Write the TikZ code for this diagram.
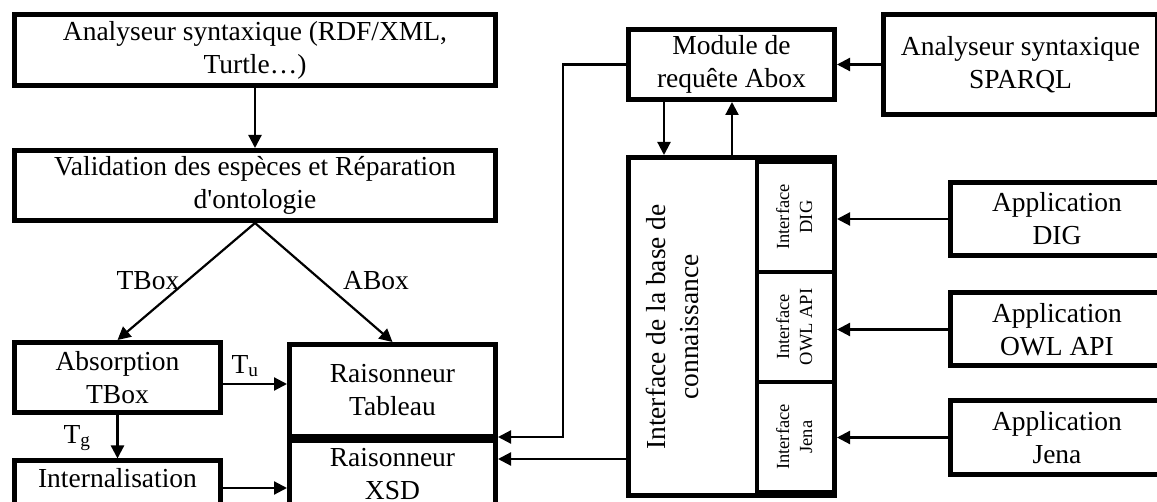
\documentclass[tikz,border=0pt]{standalone}
\usepackage{fontspec}
\setmainfont{Liberation Serif}
\usetikzlibrary{arrows.meta}
\tikzset{
  bloc/.style={draw, line width=5pt, align=center, inner sep=2pt,
    font=\fontsize{27.5}{33}\selectfont},
  sousbloc/.style={draw, line width=4pt, inner sep=0pt,
    minimum width=78, minimum height=110, font=\fontsize{18.5}{23}\selectfont},
  appli/.style={bloc, minimum width=213, minimum height=73},
  fleche/.style={-{Triangle[length=13pt,width=13pt]}, line width=2.2pt},
  etiq/.style={font=\fontsize{27.5}{33}\selectfont, inner sep=0pt}
}
\newcommand{\vtexte}[2]{\rotatebox{90}{\begin{tabular}{@{}c@{}}#1\\#2\end{tabular}}}

\begin{document}
\begin{tikzpicture}[x=1pt,y=-1pt]
\useasboundingbox (0,0) rectangle (1157,502);

\node[bloc, minimum width=481, minimum height=71] (rdf) at (255,50)
  {Analyseur syntaxique (RDF/XML,\\ Turtle…)};
\node[bloc, minimum width=481, minimum height=70] (valid) at (255,185.5)
  {Validation des espèces et Réparation\\ d\textquotesingle ontologie};
\node[bloc, minimum width=206, minimum height=70] (absorb) at (117.5,377.5)
  {Absorption\\ TBox};
\node[bloc, minimum width=206, minimum height=66] (intern) at (117.5,494)
  {Internalisation\\ \phantom{X}};
\node[bloc, minimum width=206, minimum height=92] (tableau) at (392.5,390.5)
  {Raisonneur\\ Tableau};
\node[bloc, minimum width=206, minimum height=66] (xsd) at (392.5,474)
  {Raisonneur\\ XSD};

\node[bloc, minimum width=206, minimum height=70] (module) at (731.5,64.5)
  {Module de\\ requête Abox};
\node[bloc, minimum width=274, minimum height=100] (sparql) at (1020.5,64.5)
  {Analyseur syntaxique\\ SPARQL};

\node[bloc, minimum width=206, minimum height=338] (iface) at (731.5,326.5) {};
\node[etiq, rotate=90, align=center] (ifacetxt) at (672,327)
  {Interface de la base de\\ connaissance};
\node[sousbloc] (dig) at (796,217) {\vtexte{Interface}{DIG}};
\node[sousbloc] (owl) at (796,327) {\vtexte{Interface}{OWL API}};
\node[sousbloc] (jena) at (796,437) {\vtexte{Interface}{Jena}};

\node[appli] (appdig) at (1057,219) {Application\\ DIG};
\node[appli] (appowl) at (1057,329.5) {Application\\ OWL API};
\node[appli] (appjena) at (1057,437.5) {Application\\ Jena};

\node[etiq] (tbox) at (148,281) {TBox};
\node[etiq] (abox) at (376,281) {ABox};
\node[etiq] (tu) at (245,366) {T\textsubscript{u}};
\node[etiq] (tg) at (77,438) {T\textsubscript{g}};

\draw[fleche] (rdf) -- (valid);
\draw[fleche] (valid.south) -- (absorb.north);
\draw[fleche] (valid.south) -- (tableau.north);
\draw[fleche] (absorb.east |- 0,384) -- (tableau.west |- 0,384);
\draw[fleche] (absorb) -- (intern);
\draw[fleche] (intern.east |- 0,488) -- (xsd.west |- 0,488);

\coordinate (coude) at (563,437);
\draw[fleche] (module.west) -| (coude) -- (tableau.east |- coude);
\draw[fleche] (iface.west |- 0,459) -- (xsd.east |- 0,459);
\draw[fleche] (sparql) -- (module);
\draw[fleche] (module.south -| 664,0) -- (iface.north -| 664,0);
\draw[fleche] (iface.north -| 732,0) -- (module.south -| 732,0);

\draw[fleche] (appdig.west) -- (appdig.west -| dig.east);
\draw[fleche] (appowl.west) -- (appowl.west -| owl.east);
\draw[fleche] (appjena.west) -- (appjena.west -| jena.east);
\end{tikzpicture}
\end{document}
